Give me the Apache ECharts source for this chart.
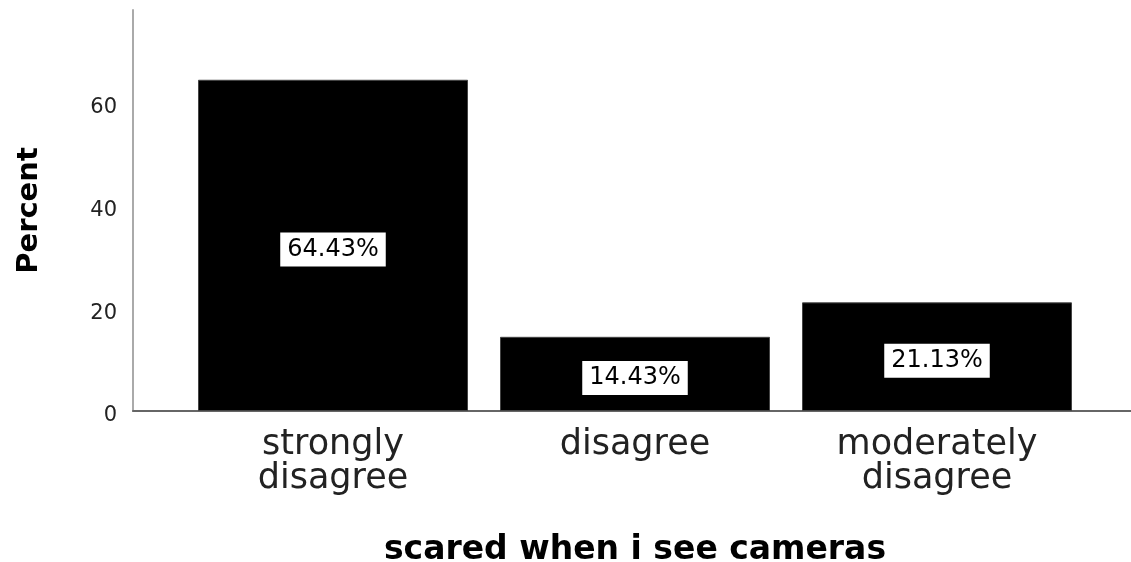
<!DOCTYPE html>
<html>
<head>
<meta charset="utf-8">
<script src="https://cdn.jsdelivr.net/npm/echarts@6/dist/echarts.min.js"></script>
<style>html,body{margin:0;padding:0;background:#fff;}#c{width:1131px;height:562px;}</style>
</head>
<body>
<div id="c"></div>
<script>
const categories = ['strongly\ndisagree', 'disagree', 'moderately\ndisagree'];
const percents = [64.43, 14.43, 21.13];
const yTicks = [0, 20, 40, 60];
const yMax = 78;
const xTitle = 'scared when i see cameras';
const yTitle = 'Percent';

const chart = echarts.init(document.getElementById('c'), null, {renderer: 'canvas'});
const font = 'DejaVu Sans';
chart.setOption({
  animation: false,
  backgroundColor: '#fff',
  grid: [
    {left: 133, right: 0, top: 10, bottom: 151, containLabel: false, outerBoundsMode: 'none'},
    {left: 182, width: 906, top: 10, bottom: 151, containLabel: false, outerBoundsMode: 'none'}
  ],
  xAxis: [
    {gridIndex: 0, type: 'value', min: 0, max: 1,
     axisLine: {show: true, lineStyle: {color: '#666', width: 2}},
     axisTick: {show: false}, axisLabel: {show: false}, splitLine: {show: false}},
    {gridIndex: 1, type: 'category', data: categories,
     axisLine: {show: false}, axisTick: {show: false},
     axisLabel: {fontFamily: font, fontSize: 35, lineHeight: 34, color: '#222', margin: 17, interval: 0},
     name: xTitle, nameLocation: 'middle', nameGap: 123,
     nameTextStyle: {fontFamily: font, fontSize: 33, fontWeight: 'bold', color: '#000'}}
  ],
  yAxis: [
    {gridIndex: 0, type: 'value', min: 0, max: yMax, interval: 20,
     axisLine: {show: true, lineStyle: {color: '#aaa', width: 2}},
     axisTick: {show: false}, splitLine: {show: false},
     axisLabel: {fontFamily: font, fontSize: 21, color: '#222', margin: 16, showMaxLabel: false,
       verticalAlign: 'top', lineHeight: 10,
       formatter: v => yTicks.includes(v) ? String(v) : ''},
     name: yTitle, nameLocation: 'middle', nameGap: 89,
     nameTextStyle: {fontFamily: font, fontSize: 29, fontWeight: 'bold', color: '#000'}},
    {gridIndex: 1, type: 'value', min: 0, max: yMax, show: false}
  ],
  series: [{
    type: 'bar', xAxisIndex: 1, yAxisIndex: 1,
    data: percents,
    barWidth: 270,
    itemStyle: {color: '#000', borderColor: '#444', borderWidth: 1},
    label: {show: true, position: 'inside', offset: [0, 4],
      formatter: p => p.value.toFixed(2) + '%',
      fontFamily: font, fontSize: 24, color: '#000', backgroundColor: '#fff',
      borderColor: '#000', borderWidth: 1, padding: [5, 7, 4, 7], lineHeight: 25}
  }]
});
</script>
</body>
</html>
